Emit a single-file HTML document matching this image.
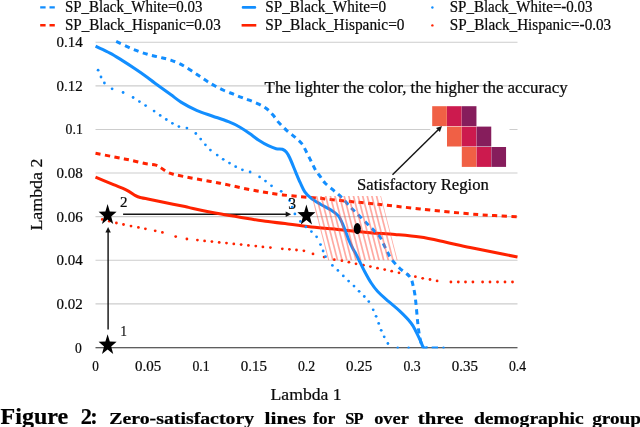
<!DOCTYPE html>
<html lang="en">
<head>
<meta charset="utf-8">
<title>Figure 2</title>
<style>
html,body{margin:0;padding:0;background:#fff;}
body{width:640px;height:427px;overflow:hidden;position:relative;}
svg{display:block;position:absolute;left:0;top:0;}
text{font-family:"Liberation Serif",serif;fill:#0a0a0a;stroke:#0a0a0a;stroke-width:0.22px;}
.tick{font-size:14.5px;}
.leg{font-size:15.7px;}
.ann{font-size:15.8px;}
.axl{font-size:17px;}
.cap1{font-size:22.3px;font-weight:bold;fill:#000;}
.cap2{font-size:16.4px;font-weight:bold;fill:#000;}
.num{font-size:15px;}
</style>
</head>
<body>
<svg width="640" height="427" viewBox="0 0 640 427">
<rect x="0" y="0" width="640" height="427" fill="#ffffff"/>

<g stroke="#cdcdcd" stroke-width="1.1" fill="none">
<line x1="95.5" y1="303.85" x2="517.5" y2="303.85"/>
<line x1="95.5" y1="260.25" x2="517.5" y2="260.25"/>
<line x1="95.5" y1="216.65" x2="517.5" y2="216.65"/>
<line x1="95.5" y1="173.05" x2="517.5" y2="173.05"/>
<line x1="95.5" y1="129.45" x2="517.5" y2="129.45"/>
<line x1="95.5" y1="85.85" x2="517.5" y2="85.85"/>
<line x1="95.5" y1="42.25" x2="517.5" y2="42.25"/>
</g>
<rect x="430.3" y="100" width="79.2" height="70" fill="#ffffff"/>
<text class="tick" x="81.9" y="352.9" text-anchor="end" textLength="6.8" lengthAdjust="spacingAndGlyphs">0</text>
<text class="tick" x="82.8" y="308.7" text-anchor="end" textLength="26.2" lengthAdjust="spacingAndGlyphs">0.02</text>
<text class="tick" x="82.8" y="265.1" text-anchor="end" textLength="26.2" lengthAdjust="spacingAndGlyphs">0.04</text>
<text class="tick" x="82.8" y="221.6" text-anchor="end" textLength="26.2" lengthAdjust="spacingAndGlyphs">0.06</text>
<text class="tick" x="82.8" y="177.9" text-anchor="end" textLength="26.2" lengthAdjust="spacingAndGlyphs">0.08</text>
<text class="tick" x="82.8" y="134.3" text-anchor="end" textLength="17.2" lengthAdjust="spacingAndGlyphs">0.1</text>
<text class="tick" x="82.8" y="90.8" text-anchor="end" textLength="26.2" lengthAdjust="spacingAndGlyphs">0.12</text>
<text class="tick" x="82.8" y="47.1" text-anchor="end" textLength="26.2" lengthAdjust="spacingAndGlyphs">0.14</text>
<text class="tick" x="95.5" y="370.6" text-anchor="middle" textLength="6.6" lengthAdjust="spacingAndGlyphs">0</text>
<text class="tick" x="148.2" y="370.6" text-anchor="middle" textLength="26.2" lengthAdjust="spacingAndGlyphs">0.05</text>
<text class="tick" x="201.0" y="370.6" text-anchor="middle" textLength="17.2" lengthAdjust="spacingAndGlyphs">0.1</text>
<text class="tick" x="253.8" y="370.6" text-anchor="middle" textLength="26.2" lengthAdjust="spacingAndGlyphs">0.15</text>
<text class="tick" x="306.5" y="370.6" text-anchor="middle" textLength="17.2" lengthAdjust="spacingAndGlyphs">0.2</text>
<text class="tick" x="359.2" y="370.6" text-anchor="middle" textLength="26.2" lengthAdjust="spacingAndGlyphs">0.25</text>
<text class="tick" x="412.0" y="370.6" text-anchor="middle" textLength="17.2" lengthAdjust="spacingAndGlyphs">0.3</text>
<text class="tick" x="464.8" y="370.6" text-anchor="middle" textLength="26.2" lengthAdjust="spacingAndGlyphs">0.35</text>
<text class="tick" x="517.5" y="370.6" text-anchor="middle" textLength="17.2" lengthAdjust="spacingAndGlyphs">0.4</text>
<g stroke="#151515" stroke-width="1.45" fill="none">
<line x1="108.1" y1="329.5" x2="108.1" y2="231"/>
<line x1="123.1" y1="214.3" x2="287" y2="214.3"/>
<line x1="392.5" y1="174.7" x2="439" y2="129"/>
</g>
<g fill="#151515">
<polygon points="108.1,226.9 105.4,232.4 110.8,232.4"/>
<polygon points="291.2,214.3 285.7,211.6 285.7,217"/>
<polygon points="442,126 439.9,132 436,128.1"/>
</g>
<line x1="95.5" y1="347.75" x2="517.5" y2="347.75" stroke="#2a2a2a" stroke-width="1.2"/>
<defs><clipPath id="pc"><rect x="90" y="0" width="440" height="348.6"/></clipPath></defs>
<g clip-path="url(#pc)">
<g fill="#ff2200"><circle cx="102.3" cy="219.4" r="1.4"/><circle cx="109.3" cy="221.2" r="1.4"/><circle cx="116.4" cy="223.0" r="1.4"/><circle cx="123.5" cy="224.5" r="1.4"/><circle cx="131.0" cy="226.1" r="1.4"/><circle cx="138.4" cy="227.4" r="1.4"/><circle cx="145.4" cy="228.8" r="1.4"/><circle cx="155.2" cy="230.8" r="1.4"/><circle cx="162.4" cy="232.4" r="1.4"/><circle cx="175.7" cy="236.6" r="1.4"/><circle cx="186.9" cy="239.0" r="1.4"/><circle cx="197.4" cy="240.1" r="1.4"/><circle cx="204.6" cy="240.9" r="1.4"/><circle cx="211.9" cy="241.6" r="1.4"/><circle cx="219.2" cy="242.4" r="1.4"/><circle cx="226.5" cy="243.1" r="1.4"/><circle cx="233.8" cy="243.9" r="1.4"/><circle cx="241.1" cy="244.6" r="1.4"/><circle cx="248.4" cy="245.4" r="1.4"/><circle cx="255.8" cy="246.1" r="1.4"/><circle cx="262.9" cy="246.9" r="1.4"/><circle cx="270.4" cy="247.6" r="1.4"/><circle cx="282.3" cy="248.8" r="1.4"/><circle cx="289.4" cy="249.3" r="1.4"/><circle cx="296.5" cy="250.0" r="1.4"/><circle cx="303.9" cy="250.8" r="1.4"/><circle cx="313.0" cy="253.9" r="1.4"/><circle cx="324.1" cy="257.1" r="1.4"/><circle cx="334.3" cy="259.7" r="1.4"/><circle cx="341.9" cy="260.7" r="1.4"/><circle cx="348.9" cy="262.2" r="1.4"/><circle cx="356.0" cy="263.8" r="1.4"/><circle cx="363.4" cy="265.2" r="1.4"/><circle cx="370.4" cy="266.6" r="1.4"/><circle cx="377.5" cy="268.2" r="1.4"/><circle cx="384.7" cy="269.6" r="1.4"/><circle cx="391.7" cy="271.2" r="1.4"/><circle cx="399.0" cy="272.8" r="1.4"/><circle cx="408.0" cy="274.6" r="1.4"/><circle cx="415.4" cy="276.7" r="1.4"/><circle cx="422.7" cy="278.3" r="1.4"/><circle cx="430.0" cy="279.5" r="1.4"/><circle cx="437.1" cy="280.9" r="1.4"/><circle cx="450.9" cy="282.0" r="1.4"/><circle cx="458.3" cy="282.0" r="1.4"/><circle cx="465.5" cy="282.0" r="1.4"/><circle cx="472.9" cy="282.0" r="1.4"/><circle cx="482.6" cy="282.0" r="1.4"/><circle cx="490.0" cy="282.0" r="1.4"/><circle cx="497.5" cy="282.0" r="1.4"/><circle cx="505.0" cy="282.0" r="1.4"/><circle cx="512.5" cy="282.0" r="1.4"/></g>
<g fill="none" stroke-linejoin="round">
<path d="M95.5 153.3C98.5 153.9 107.9 155.7 113.5 156.8C119.1 157.9 124.0 158.8 129.2 159.9C134.4 161.0 140.4 162.6 144.9 163.5C149.4 164.4 153.3 164.4 155.9 165.1C158.5 165.8 158.8 166.4 160.6 167.5C162.4 168.6 164.8 170.8 166.9 171.9C169.0 173.0 169.3 173.2 173.2 174.2C177.0 175.2 182.2 176.2 190.0 177.7C197.8 179.2 209.8 181.2 220.0 183.2C230.2 185.2 240.9 187.9 251.4 189.9C261.9 191.9 271.4 193.5 282.8 194.9C294.2 196.3 312.6 197.6 320.0 198.3C327.4 199.0 318.7 198.2 327.0 199.1C335.3 200.0 361.2 202.6 370.0 203.5C378.8 204.4 371.7 203.6 380.0 204.5C388.3 205.4 405.0 207.3 420.0 208.9C435.0 210.5 457.5 212.8 470.0 213.9C482.5 215.0 487.1 215.1 495.0 215.6C502.9 216.1 513.8 216.6 517.5 216.8" stroke="#ff2200" stroke-width="3" stroke-dasharray="5.2 4.4"/>
<path d="M95.5 177.2C98.5 178.4 108.4 182.6 113.5 184.7C118.6 186.8 122.4 188.1 126.1 189.9C129.8 191.7 133.2 194.4 135.5 195.7C137.8 197.0 138.1 197.1 140.2 197.6C142.2 198.1 143.9 198.1 147.8 198.9C151.7 199.7 157.3 200.9 163.5 202.2C169.7 203.5 180.1 205.6 185.0 206.6C189.9 207.6 187.1 207.2 193.1 208.4C199.1 209.7 211.9 212.4 221.2 214.1C230.6 215.8 241.6 217.5 249.4 218.8C257.2 220.0 262.2 220.8 268.1 221.6C274.0 222.4 277.8 222.7 285.0 223.6C292.2 224.5 301.8 225.8 311.4 226.9C321.0 228.0 333.0 229.0 342.8 230.0C352.6 231.0 361.3 231.9 370.0 232.7C378.7 233.4 386.7 233.8 395.0 234.5C403.3 235.2 411.7 235.8 420.0 237.0C428.3 238.2 436.7 240.2 445.0 242.0C453.3 243.8 461.7 245.8 470.0 247.5C478.3 249.2 487.1 250.9 495.0 252.5C502.9 254.1 513.8 256.2 517.5 257.0" stroke="#ff2200" stroke-width="3.05"/>
</g>
<g fill="#128eff"><circle cx="98.1" cy="70.2" r="1.4"/><circle cx="101.0" cy="77.0" r="1.4"/><circle cx="104.4" cy="83.0" r="1.4"/><circle cx="112.1" cy="88.8" r="1.4"/><circle cx="123.1" cy="92.5" r="1.4"/><circle cx="133.1" cy="97.5" r="1.4"/><circle cx="139.4" cy="101.6" r="1.4"/><circle cx="145.6" cy="105.6" r="1.4"/><circle cx="154.1" cy="111.1" r="1.4"/><circle cx="160.2" cy="115.4" r="1.4"/><circle cx="166.3" cy="119.5" r="1.4"/><circle cx="172.4" cy="123.3" r="1.4"/><circle cx="178.9" cy="126.6" r="1.4"/><circle cx="186.9" cy="128.1" r="1.4"/><circle cx="195.8" cy="133.5" r="1.4"/><circle cx="200.7" cy="139.1" r="1.4"/><circle cx="205.4" cy="144.8" r="1.4"/><circle cx="210.4" cy="150.1" r="1.4"/><circle cx="217.2" cy="155.1" r="1.4"/><circle cx="223.2" cy="159.3" r="1.4"/><circle cx="229.5" cy="163.1" r="1.4"/><circle cx="235.7" cy="166.7" r="1.4"/><circle cx="242.4" cy="169.8" r="1.4"/><circle cx="250.1" cy="172.0" r="1.4"/><circle cx="259.6" cy="176.9" r="1.4"/><circle cx="265.5" cy="181.1" r="1.4"/><circle cx="271.5" cy="185.8" r="1.4"/><circle cx="281.2" cy="191.3" r="1.4"/><circle cx="289.6" cy="200.5" r="1.4"/><circle cx="292.2" cy="207.2" r="1.4"/><circle cx="294.9" cy="213.9" r="1.4"/><circle cx="300.4" cy="221.4" r="1.4"/><circle cx="305.9" cy="226.9" r="1.4"/><circle cx="311.4" cy="231.6" r="1.4"/><circle cx="316.6" cy="236.8" r="1.4"/><circle cx="320.5" cy="244.6" r="1.4"/><circle cx="323.1" cy="251.0" r="1.4"/><circle cx="325.5" cy="256.7" r="1.4"/><circle cx="332.4" cy="265.4" r="1.4"/><circle cx="337.9" cy="270.4" r="1.4"/><circle cx="343.3" cy="275.9" r="1.4"/><circle cx="348.6" cy="281.1" r="1.4"/><circle cx="354.0" cy="286.1" r="1.4"/><circle cx="359.1" cy="291.3" r="1.4"/><circle cx="364.3" cy="296.5" r="1.4"/><circle cx="368.8" cy="301.6" r="1.4"/><circle cx="373.2" cy="309.8" r="1.4"/><circle cx="376.1" cy="316.3" r="1.4"/><circle cx="378.7" cy="323.4" r="1.4"/><circle cx="381.2" cy="330.3" r="1.4"/><circle cx="384.2" cy="336.8" r="1.4"/><circle cx="387.9" cy="343.5" r="1.4"/></g>
<g fill="#128eff"><circle cx="397.7" cy="347.7" r="1.2"/><circle cx="408.6" cy="347.7" r="1.2"/><circle cx="443.5" cy="347.7" r="1.2"/></g>
<g fill="none" stroke-linejoin="round">
<path d="M116.2 41.4C118.3 42.4 125.0 45.7 128.8 47.4C132.5 49.1 135.6 50.2 138.8 51.4C141.9 52.5 144.8 53.5 147.5 54.3C150.2 55.1 152.4 55.6 155.0 56.2C157.6 56.8 160.2 57.4 162.8 58.0C165.4 58.6 167.8 59.1 170.7 60.1C173.6 61.1 177.0 62.3 180.1 63.9C183.2 65.5 186.3 67.4 189.5 69.4C192.7 71.4 196.1 73.8 199.0 75.8C201.9 77.8 204.2 79.4 206.8 81.1C209.4 82.8 211.8 84.2 214.7 85.8C217.6 87.4 221.0 89.1 224.1 90.5C227.2 91.9 230.6 93.0 233.5 94.2C236.4 95.4 238.8 96.4 241.5 97.4C244.2 98.4 246.5 99.1 249.4 100.2C252.3 101.3 255.9 102.7 258.8 104.1C261.7 105.5 264.3 107.0 266.7 108.8C269.1 110.6 270.9 112.7 273.0 115.1C275.1 117.5 276.8 120.4 279.2 123.0C281.6 125.6 284.5 128.5 287.1 130.8C289.7 133.2 292.4 135.0 294.9 137.1C297.3 139.2 299.9 141.1 301.8 143.6C303.7 146.1 304.8 148.9 306.3 151.8C307.9 154.7 309.5 158.1 311.1 161.2C312.7 164.3 314.3 168.1 315.8 170.6C317.3 173.1 318.5 174.0 320.0 176.1C321.5 178.2 322.5 180.4 325.0 183.0C327.5 185.6 331.9 188.9 334.9 191.5C337.9 194.1 340.2 196.0 342.8 198.6C345.4 201.2 348.0 204.6 350.6 207.3C353.2 210.1 355.6 212.2 358.5 215.1C361.4 218.0 365.3 221.9 367.9 224.5C370.5 227.1 372.2 228.7 374.2 230.8C376.2 232.9 378.4 234.6 380.0 237.0C381.6 239.4 382.9 242.7 384.0 245.0C385.1 247.3 385.7 248.6 386.9 250.8C388.1 253.1 388.9 255.6 391.0 258.5C393.1 261.4 396.7 265.4 399.4 268.0C402.1 270.6 405.3 272.5 407.3 274.3C409.3 276.1 410.2 277.0 411.2 279.0C412.2 281.0 412.6 283.6 413.2 286.1C413.8 288.6 414.3 291.0 414.8 294.0C415.3 297.0 415.5 299.5 416.0 304.1C416.5 308.7 417.1 316.4 417.6 321.4C418.1 326.4 418.6 330.1 419.2 334.0C419.8 337.9 420.9 342.7 421.5 345.0C422.1 347.3 422.3 347.2 422.5 347.6" stroke="#128eff" stroke-width="3" stroke-dasharray="5.2 4.4"/>
<path d="M431.7 347.6H438" stroke="#128eff" stroke-width="2.4"/>
<path d="M95.6 46.2C98.0 47.4 105.5 50.7 110.0 53.1C114.5 55.5 118.3 58.0 122.5 60.6C126.7 63.2 130.8 65.9 135.0 68.8C139.2 71.6 144.2 75.1 147.5 77.5C150.8 79.9 151.1 80.4 155.0 83.2C158.9 86.0 166.3 91.4 170.7 94.6C175.1 97.8 177.0 99.7 181.4 102.4C185.8 105.1 191.9 108.4 197.1 110.7C202.3 113.0 207.6 114.4 212.8 116.2C218.0 118.0 224.0 119.9 228.5 121.7C233.0 123.5 236.5 125.2 240.0 127.2C243.5 129.2 246.5 131.3 249.6 133.5C252.7 135.7 255.7 138.2 258.8 140.2C261.9 142.2 265.4 144.3 268.3 145.7C271.2 147.1 273.8 148.1 276.1 148.7C278.5 149.3 280.7 148.8 282.4 149.3C284.1 149.9 285.1 150.6 286.3 152.0C287.5 153.4 288.3 154.8 289.8 158.0C291.3 161.2 293.7 167.3 295.4 171.4C297.1 175.5 298.5 179.0 300.1 182.4C301.7 185.8 302.9 189.1 304.8 191.8C306.7 194.5 308.7 196.3 311.3 198.4C313.9 200.5 317.2 202.3 320.4 204.2C323.5 206.1 327.2 207.6 330.2 209.6C333.2 211.6 336.2 213.2 338.4 215.9C340.6 218.7 341.9 222.3 343.5 226.1C345.1 229.9 346.8 235.0 348.3 238.7C349.8 242.4 351.3 245.5 352.6 248.1C353.9 250.7 354.6 251.6 355.9 254.0C357.2 256.4 358.7 259.6 360.2 262.6C361.7 265.6 363.1 268.6 364.9 272.0C366.7 275.4 369.1 279.8 371.2 283.0C373.3 286.2 374.6 288.1 377.5 291.2C380.4 294.3 384.8 298.1 388.5 301.4C392.2 304.7 396.1 307.6 399.8 311.2C403.6 314.8 408.3 319.6 411.0 323.0C413.7 326.4 414.5 328.7 416.0 331.6C417.5 334.5 419.0 337.6 420.2 340.2C421.4 342.8 422.2 346.1 423.4 347.3C424.6 348.5 426.8 347.6 427.5 347.6" stroke="#128eff" stroke-width="3.05"/>
</g>
</g>
<defs>
<clipPath id="hc"><polygon points="311.6,196 381,196 397.6,260.3 328.2,260.3"/></clipPath>
</defs>
<g clip-path="url(#hc)" stroke="#ff5546" stroke-width="1.7" fill="none" opacity="0.5">
<line x1="293.1" y1="195" x2="310.0" y2="261"/>
<line x1="297.7" y1="195" x2="314.6" y2="261"/>
<line x1="302.3" y1="195" x2="319.2" y2="261"/>
<line x1="307.0" y1="195" x2="323.9" y2="261"/>
<line x1="311.6" y1="195" x2="328.5" y2="261"/>
<line x1="316.2" y1="195" x2="333.1" y2="261"/>
<line x1="320.8" y1="195" x2="337.7" y2="261"/>
<line x1="325.4" y1="195" x2="342.3" y2="261"/>
<line x1="330.1" y1="195" x2="347.0" y2="261"/>
<line x1="334.7" y1="195" x2="351.6" y2="261"/>
<line x1="339.3" y1="195" x2="356.2" y2="261"/>
<line x1="343.9" y1="195" x2="360.8" y2="261"/>
<line x1="348.5" y1="195" x2="365.4" y2="261"/>
<line x1="353.2" y1="195" x2="370.1" y2="261"/>
<line x1="357.8" y1="195" x2="374.7" y2="261"/>
<line x1="362.4" y1="195" x2="379.3" y2="261"/>
<line x1="367.0" y1="195" x2="383.9" y2="261"/>
<line x1="371.6" y1="195" x2="388.5" y2="261"/>
<line x1="376.3" y1="195" x2="393.2" y2="261"/>
<line x1="380.9" y1="195" x2="397.8" y2="261"/>
<line x1="385.5" y1="195" x2="402.4" y2="261"/>
<line x1="390.1" y1="195" x2="407.0" y2="261"/>
<line x1="394.7" y1="195" x2="411.6" y2="261"/>
<line x1="399.4" y1="195" x2="416.3" y2="261"/>
</g>
<ellipse cx="357.3" cy="228.6" rx="3.6" ry="5.6" fill="#000"/>
<polygon points="107.6,334.2 109.8,341.6 116.6,341.8 111.2,346.6 113.2,354.1 107.6,349.6 102.0,354.1 104.0,346.6 98.6,341.8 105.4,341.6" fill="#000"/>
<polygon points="107.6,204.1 109.8,211.5 116.6,211.7 111.2,216.5 113.2,224.0 107.6,219.5 102.0,224.0 104.0,216.5 98.6,211.7 105.4,211.5" fill="#000"/>
<polygon points="306.4,204.6 308.6,212.0 315.4,212.2 310.0,217.0 312.0,224.5 306.4,220.0 300.8,224.5 302.8,217.0 297.4,212.2 304.2,212.0" fill="#000"/>
<text class="num" x="120.4" y="336.2" textLength="6.4" lengthAdjust="spacingAndGlyphs">1</text>
<text class="num" x="119.9" y="207.3" textLength="7.5" lengthAdjust="spacingAndGlyphs">2</text>
<text class="num" x="288.2" y="208.5" textLength="7.8" lengthAdjust="spacingAndGlyphs" style="font-size:17.5px">3</text>
<rect x="432.2" y="106.2" width="14.65" height="19.9" fill="#f06045"/>
<rect x="447.0" y="106.2" width="14.65" height="19.9" fill="#cc1a4e"/>
<rect x="461.8" y="106.2" width="14.65" height="19.9" fill="#861d5c"/>
<rect x="447.0" y="126.6" width="14.65" height="19.9" fill="#f06045"/>
<rect x="461.8" y="126.6" width="14.65" height="19.9" fill="#cc1a4e"/>
<rect x="476.6" y="126.6" width="14.65" height="19.9" fill="#861d5c"/>
<rect x="461.8" y="147.0" width="14.65" height="19.9" fill="#f06045"/>
<rect x="476.6" y="147.0" width="14.65" height="19.9" fill="#cc1a4e"/>
<rect x="491.4" y="147.0" width="14.65" height="19.9" fill="#861d5c"/>
<text class="ann" x="264.6" y="92.5" textLength="303" lengthAdjust="spacingAndGlyphs">The lighter the color, the higher the accuracy</text>
<text class="ann" x="357" y="189.6" textLength="131.8" lengthAdjust="spacingAndGlyphs">Satisfactory Region</text>
<text class="axl" x="270.6" y="399.8" textLength="71" lengthAdjust="spacingAndGlyphs">Lambda 1</text>
<text class="axl" transform="translate(42.3,230.6) rotate(-90)" textLength="72" lengthAdjust="spacingAndGlyphs">Lambda 2</text>
<g fill="none" stroke-width="2.4">
<path d="M40.2 7.4H54.8" stroke="#128eff" stroke-dasharray="5.4 3.9"/>
<path d="M40.2 25.2H54.8" stroke="#ff2200" stroke-dasharray="5.4 3.9"/>
<path d="M243 7.4H254.9" stroke="#128eff" stroke-width="2.6" stroke-linecap="round"/>
<path d="M241.6 25.3H256.3" stroke="#ff2200" stroke-width="2.6"/>
</g>
<circle cx="432.4" cy="7.5" r="1.2" fill="#128eff"/>
<circle cx="432.4" cy="25.4" r="1.2" fill="#ff2200"/>
<text class="leg" x="64.9" y="12.2" textLength="137.6" lengthAdjust="spacingAndGlyphs">SP_Black_White=0.03</text>
<text class="leg" x="64.9" y="29.7" textLength="155.8" lengthAdjust="spacingAndGlyphs">SP_Black_Hispanic=0.03</text>
<text class="leg" x="265.3" y="12.2" textLength="120.9" lengthAdjust="spacingAndGlyphs">SP_Black_White=0</text>
<text class="leg" x="265.3" y="29.7" textLength="139.2" lengthAdjust="spacingAndGlyphs">SP_Black_Hispanic=0</text>
<text class="leg" x="449.8" y="12.2" textLength="142.7" lengthAdjust="spacingAndGlyphs">SP_Black_White=-0.03</text>
<text class="leg" x="449.8" y="29.7" textLength="161.4" lengthAdjust="spacingAndGlyphs">SP_Black_Hispanic=-0.03</text>
<text class="cap1" x="0.6" y="423.8" textLength="67.6" lengthAdjust="spacingAndGlyphs">Figure</text>
<text class="cap1" x="80.8" y="423.8" textLength="17" lengthAdjust="spacing">2:</text>
<text class="cap2" x="109.3" y="423.8" textLength="144.8" lengthAdjust="spacingAndGlyphs">Zero-satisfactory</text>
<text class="cap2" x="264.5" y="423.8" textLength="41.7" lengthAdjust="spacingAndGlyphs">lines</text>
<text class="cap2" x="312.9" y="423.8" textLength="22.5" lengthAdjust="spacingAndGlyphs">for</text>
<text class="cap2" x="345.2" y="423.8" textLength="18.3" lengthAdjust="spacing">SP</text>
<text class="cap2" x="374.2" y="423.8" textLength="34.6" lengthAdjust="spacingAndGlyphs">over</text>
<text class="cap2" x="417.8" y="423.8" textLength="45.6" lengthAdjust="spacingAndGlyphs">three</text>
<text class="cap2" x="474" y="423.8" textLength="109.7" lengthAdjust="spacingAndGlyphs">demographic</text>
<text class="cap2" x="592.2" y="423.8" textLength="56.3" lengthAdjust="spacingAndGlyphs">groups</text>
</svg>
</body>
</html>
